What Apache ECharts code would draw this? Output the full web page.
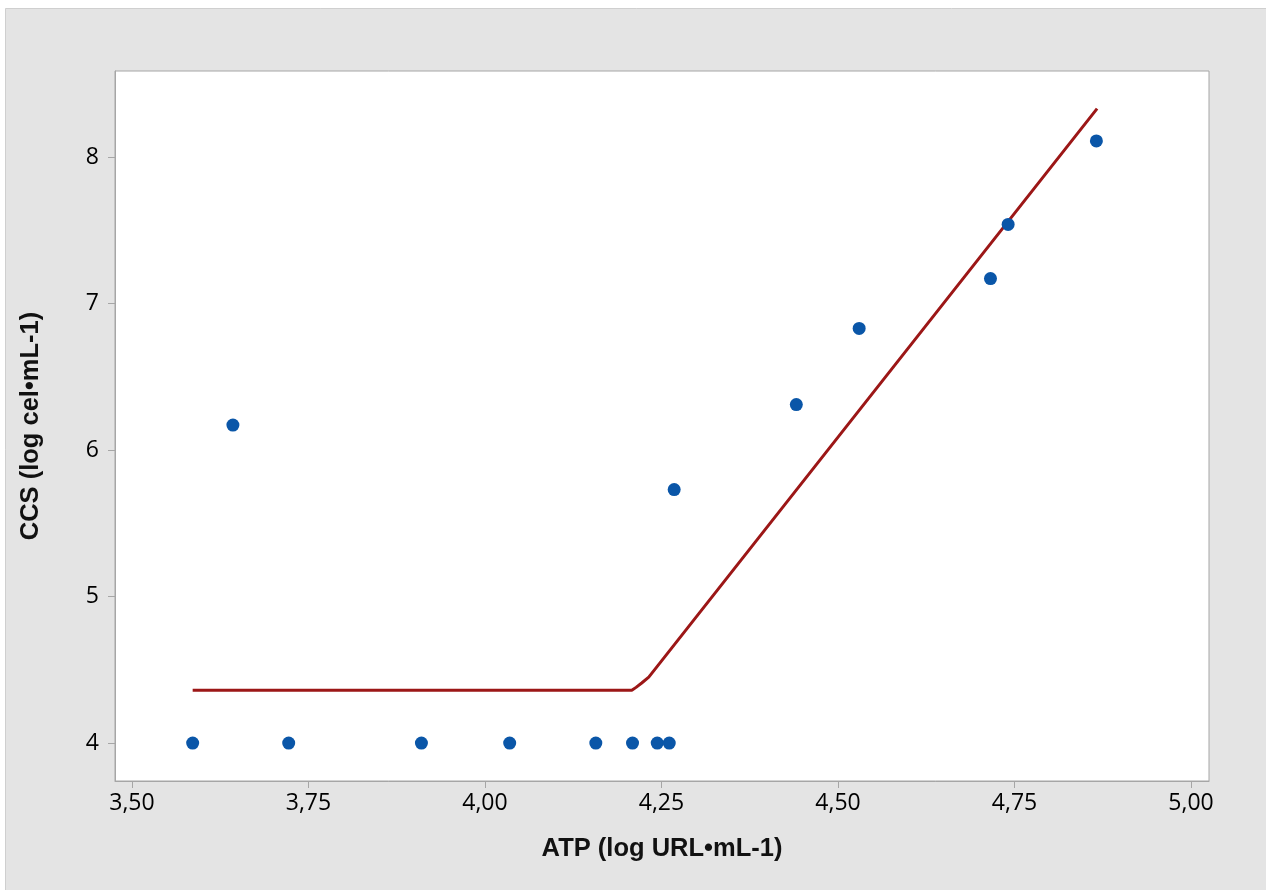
<!DOCTYPE html>
<html>
<head>
<meta charset="utf-8">
<style>
  html, body { margin: 0; padding: 0; background: #ffffff; }
  #chart { width: 1266px; height: 890px; }
</style>
<script src="https://cdn.jsdelivr.net/npm/echarts@6/dist/echarts.min.js"></script>
</head>
<body>
<div id="chart"></div>
<script>
"use strict";

// observed data (ATP, CCS)
var atpValues = [3.586, 3.643, 3.722, 3.910, 4.035, 4.157, 4.209, 4.244, 4.261, 4.268, 4.441, 4.530, 4.716, 4.741, 4.866];
var ccsValues = [4.00, 6.17, 4.00, 4.00, 4.00, 4.00, 4.00, 4.00, 4.00, 5.73, 6.31, 6.83, 7.17, 7.54, 8.11];

// fitted segmented line
var fitX = [3.586, 4.208, 4.214, 4.222, 4.232, 4.867];
var fitY = [4.36, 4.36, 4.38, 4.41, 4.45, 8.33];

var xTicks = [3.5, 3.75, 4.0, 4.25, 4.5, 4.75, 5.0];
var yTicks = [4, 5, 6, 7, 8];

var points = atpValues.map(function (x, i) { return [x, ccsValues[i]]; });
var fitLine = fitX.map(function (x, i) { return [x, fitY[i]]; });

var chart = echarts.init(document.getElementById("chart"));

var titleStyle = {
  fontFamily: "Liberation Sans",
  fontWeight: "bold",
  fontSize: 25.5,
  color: "#111111",
};

chart.setOption({
  animation: false,
  backgroundColor: "#ffffff",
  graphic: [
    {
      type: "rect",
      z: -10,
      shape: { x: 5.5, y: 8.5, width: 1280, height: 900 },
      style: { fill: "#e4e4e4", stroke: "#cfcfcf", lineWidth: 1 },
    },
  ],
  grid: {
    left: 115,
    top: 71,
    width: 1094,
    height: 710,
    show: true,
    backgroundColor: "#ffffff",
    borderColor: "#a6a6a6",
    borderWidth: 1,
  },
  xAxis: {
    type: "value",
    min: 3.476,
    max: 5.0255,
    name: "ATP (log URL•mL-1)",
    nameLocation: "middle",
    nameGap: 55,
    nameTextStyle: titleStyle,
    axisLine: { show: true, lineStyle: { color: "#a6a6a6" } },
    axisTick: {
      show: true,
      length: 7,
      customValues: xTicks,
      lineStyle: { color: "#a6a6a6" },
    },
    axisLabel: {
      customValues: xTicks,
      margin: 11,
      fontFamily: "Open Sans",
      fontSize: 23,
      color: "#000000",
      formatter: function (v) {
        return v.toFixed(2).replace(".", ",");
      },
    },
    splitLine: { show: false },
  },
  yAxis: {
    type: "value",
    min: 3.741,
    max: 8.587,
    name: "CCS (log cel•mL-1)",
    nameLocation: "middle",
    nameGap: 71,
    nameTextStyle: titleStyle,
    axisLine: { show: true, lineStyle: { color: "#a6a6a6" } },
    axisTick: {
      show: true,
      length: 7,
      customValues: yTicks,
      lineStyle: { color: "#a6a6a6" },
    },
    axisLabel: {
      customValues: yTicks,
      margin: 16,
      fontFamily: "Open Sans",
      fontSize: 23,
      color: "#000000",
    },
    splitLine: { show: false },
  },
  series: [
    {
      name: "fit",
      type: "line",
      data: fitLine,
      showSymbol: false,
      symbol: "none",
      lineStyle: { color: "#9c1717", width: 3 },
      z: 2,
    },
    {
      name: "observed",
      type: "scatter",
      data: points,
      symbol: "circle",
      symbolSize: 13,
      itemStyle: { color: "#0a56a8", opacity: 1 },
      z: 3,
    },
  ],
});
</script>
</body>
</html>
